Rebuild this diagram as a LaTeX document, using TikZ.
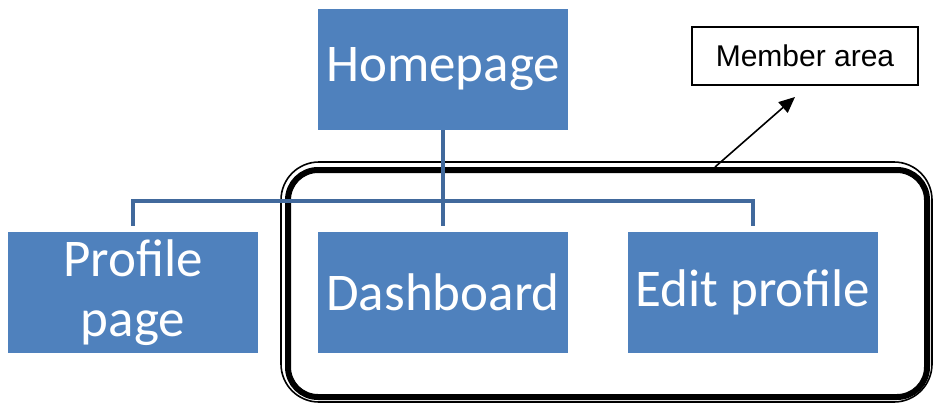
\documentclass[tikz,border=0pt]{standalone}
\usepackage{fontspec}
\setmainfont{Carlito}
\newfontfamily\arialfont{Liberation Sans}
\usetikzlibrary{arrows.meta}
\definecolor{boxblue}{HTML}{4F81BD}
\definecolor{lineblue}{HTML}{41699C}
\tikzset{
  page/.style={fill=boxblue, draw=none, minimum width=250pt, minimum height=121pt,
    inner sep=0pt, text=white, align=center, font=\fontsize{53}{60}\selectfont},
  conn/.style={draw=lineblue, line width=4pt},
  label box/.style={draw=black, line width=1.3pt, fill=white, minimum width=226pt,
    minimum height=58pt, inner sep=0pt, font=\arialfont\fontsize{30}{34}\selectfont},
  frame thick/.style={draw=black, line width=6pt, rounded corners=30pt},
  frame thin/.style={draw=black, line width=1.6pt, rounded corners=38pt},
  pointer/.style={draw=black, line width=1.6pt, -{Triangle[length=16pt,width=14pt]}}
}
\begin{document}
\begin{tikzpicture}[x=1pt,y=-1pt]
\useasboundingbox (0,0) rectangle (934,405);
% member area frame
\draw[frame thin] (281,162) rectangle (932,402);
\node[frame thick, minimum width=639pt, minimum height=227pt, inner sep=0pt] (frame) at (607.5,283.5) {};
% pages
\node[page] (home) at (443,69.5) {Homepage};
\node[page] (profile) at (133,292.5) {Profile\\page};
\node[page] (dash) at (443,292.5) {Dashboard};
\node[page] (edit) at (753,292.5) {Edit profile};
% connectors
\coordinate (bus) at (443,201);
\draw[conn, shorten >=6pt] (home.south) -- (dash.north);
\draw[conn, shorten <=6pt, shorten >=6pt] (profile.north) |- (bus) -| (edit.north);
% label
\node[label box] (member) at (805,56) {Member area};
\coordinate (tip) at (795,97);
\draw[pointer] (frame.north -| 715,0) -- (tip);
\end{tikzpicture}
\end{document}
